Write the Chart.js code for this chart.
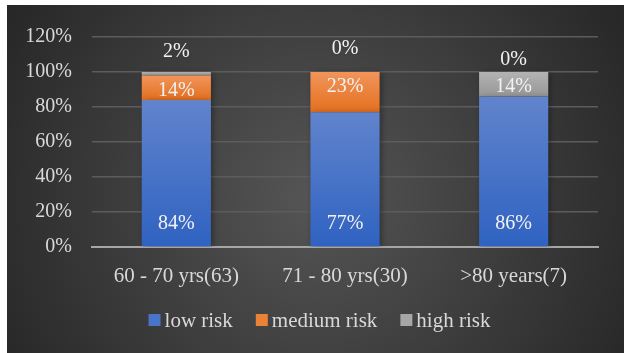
<!DOCTYPE html>
<html>
<head>
<meta charset="utf-8">
<script src="https://cdn.jsdelivr.net/npm/chart.js@4.4.1/dist/chart.umd.min.js"></script>
<style>
  html, body { margin: 0; padding: 0; background: #fff; }
  #wrap { position: absolute; left: 7px; top: 5px; width: 617px; height: 348px; }
</style>
</head>
<body>
<div id="wrap"><canvas id="myChart"></canvas></div>
<script>
// ==== jadval malumotlari ====
const groups = ["60 - 70 yrs(63)", "71 - 80 yrs(30)", ">80 years(7)"];
const lowRisk = [84, 77, 86];
const mediumRisk = [14, 23, 0];
const highRisk = [2, 0, 14];
const yTicks = [0, 20, 40, 60, 80, 100, 120];

const seriesNames = ["low risk", "medium risk", "high risk"];
const seriesArr = [lowRisk, mediumRisk, highRisk];

// har bir seriya uchun gradient ranglari (tepa, past)
const colors = [
    ["#6184cc", "#2f62c1"],
    ["#f2955b", "#e3701f"],
    ["#b3b3b3", "#969696"]
];
const legendColors = ["#4a74c8", "#ec8236", "#a6a6a6"];

const serif = "'Liberation Serif', 'Times New Roman', serif";

// ==== bo'lak uchun gradient ====
const segmentFill = (ctx) => {
    const chart = ctx.chart;
    const y = chart.scales.y;
    const solid = colors[ctx.datasetIndex][1];
    if (!y || ctx.dataIndex === undefined) return solid;
    let base = 0;
    for (let d = 0; d < ctx.datasetIndex; d++) base += seriesArr[d][ctx.dataIndex];
    const top = base + seriesArr[ctx.datasetIndex][ctx.dataIndex];
    const y0 = y.getPixelForValue(top);
    let y1 = y.getPixelForValue(base);
    if (!isFinite(y0) || !isFinite(y1)) return solid;
    if (y1 - y0 < 1) y1 = y0 + 1;
    const g = chart.ctx.createLinearGradient(0, y0, 0, y1);
    g.addColorStop(0, colors[ctx.datasetIndex][0]);
    g.addColorStop(1, colors[ctx.datasetIndex][1]);
    return g;
};

// ==== fon: markazi ochroq radial gradient ====
const bgPlugin = {
    id: "bgPlugin",
    beforeDraw(chart) {
        const c = chart.ctx;
        const w = chart.width, h = chart.height;
        const g = c.createRadialGradient(w * 0.5, h * 0.55, 10, w * 0.5, h * 0.55, w * 0.62);
        g.addColorStop(0, "#545454");
        g.addColorStop(1, "#242424");
        c.save();
        c.fillStyle = g;
        c.fillRect(0, 0, w, h);
        c.restore();
    }
};

// ==== ustunlar soyasi ====
const shadowPlugin = {
    id: "shadowPlugin",
    beforeDatasetsDraw(chart) {
        const c = chart.ctx;
        c.save();
        c.shadowColor = "rgba(0,0,0,0.35)";
        c.shadowBlur = 6;
        c.shadowOffsetX = 2;
        c.shadowOffsetY = 1;
    },
    afterDatasetsDraw(chart) {
        chart.ctx.restore();
    }
};

// ==== foiz yozuvlari ====
const labelPlugin = {
    id: "labelPlugin",
    afterDatasetsDraw(chart, args, opts) {
        const c = chart.ctx;
        const y = chart.scales.y;
        c.save();
        c.font = "20px " + serif;
        c.fillStyle = "#f2f2f2";
        c.textAlign = "center";
        c.textBaseline = "middle";
        chart.data.datasets.forEach((ds, di) => {
            const meta = chart.getDatasetMeta(di);
            meta.data.forEach((bar, i) => {
                const v = ds.data[i];
                let ty;
                if (di === 0) {
                    ty = bar.base - 23;
                } else if (v < 5) {
                    ty = y.getPixelForValue(100) - opts.above[i];
                } else {
                    ty = bar.y + 15;
                }
                c.fillText(v + "%", bar.x, ty);
            });
        });
        c.restore();
    }
};

// ==== pastdagi legenda (kvadrat + matn) ====
const legendPlugin = {
    id: "legendPlugin",
    afterDraw(chart) {
        const c = chart.ctx;
        c.save();
        c.font = "21px " + serif;
        c.textBaseline = "middle";
        const box = 12, gap = 4, space = 23;
        const widths = seriesNames.map(n => box + gap + c.measureText(n).width);
        const total = widths.reduce((a, b) => a + b, 0) + space * (widths.length - 1);
        let x = chart.width / 2 + 4 - total / 2;
        const cy = chart.height - 33;
        seriesNames.forEach((n, i) => {
            c.fillStyle = legendColors[i];
            c.fillRect(x, cy - 6, box, box);
            c.fillStyle = "#d9d9d9";
            c.fillText(n, x + box + gap, cy + 1);
            x += widths[i] + space;
        });
        c.restore();
    }
};

const datasets = seriesArr.map((arr, i) => ({
    label: seriesNames[i],
    data: arr,
    backgroundColor: segmentFill,
    borderWidth: 0,
    categoryPercentage: 1,
    barPercentage: 0.41
}));

const config = {
    type: "bar",
    data: { labels: groups, datasets: datasets },
    plugins: [bgPlugin, shadowPlugin, labelPlugin, legendPlugin],
    options: {
        responsive: true,
        maintainAspectRatio: false,
        animation: false,
        layout: { padding: { left: 10, right: 26, top: 29, bottom: 58 } },
        scales: {
            x: {
                stacked: true,
                grid: { display: false, drawTicks: false },
                border: { color: "#a6a6a6", width: 2 },
                ticks: { color: "#d9d9d9", font: { family: serif, size: 21 }, padding: 17 },
                afterFit: (s) => { s.height = 48; }
            },
            y: {
                stacked: true,
                min: 0,
                max: 120,
                afterBuildTicks: (s) => { s.ticks = yTicks.map(v => ({ value: v })); },
                grid: { color: "#5c5c5c", lineWidth: 1.5, drawTicks: false },
                border: { display: false },
                ticks: {
                    color: "#d9d9d9",
                    font: { family: serif, size: 20 },
                    padding: 20,
                    callback: (v) => v + "%"
                },
                afterFit: (s) => { s.width = 75; }
            }
        },
        plugins: {
            legend: { display: false },
            tooltip: { enabled: false },
            labelPlugin: { above: [20, 23, 12] }
        }
    }
};

let myChart = new Chart(document.getElementById("myChart"), config);
</script>
</body>
</html>
